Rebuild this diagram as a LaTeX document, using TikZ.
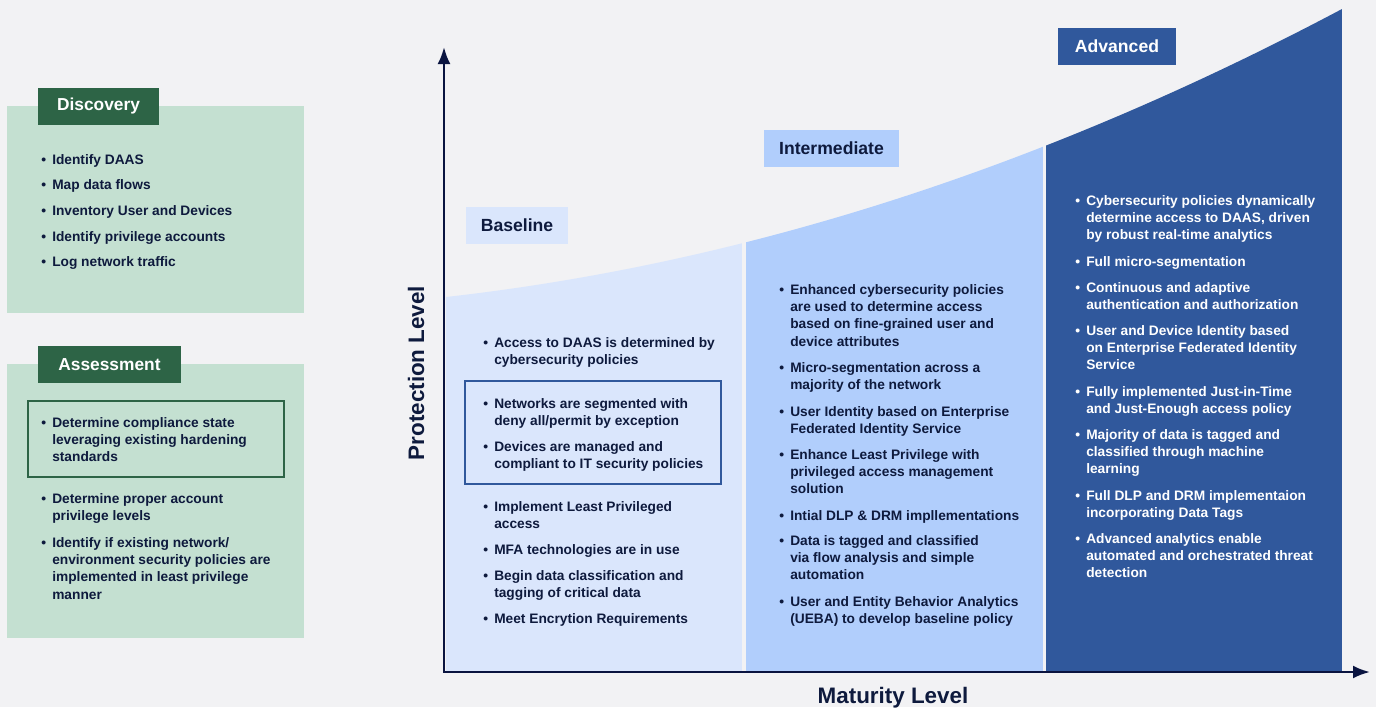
\documentclass[tikz,border=0pt]{standalone}
\usepackage{fontspec}
\setmainfont{Liberation Sans}
\usetikzlibrary{arrows.meta}
\definecolor{bgc}{HTML}{F2F2F4}
\definecolor{basec}{HTML}{DAE6FC}
\definecolor{interc}{HTML}{B1CEFC}
\definecolor{advc}{HTML}{30589C}
\definecolor{panelc}{HTML}{C4E0D1}
\definecolor{hdrc}{HTML}{2D6446}
\definecolor{navy}{HTML}{0E1A3D}
\definecolor{axisc}{HTML}{0A1440}
\newcommand{\bul}[1]{\parbox[t]{260pt}{\raggedright\leavevmode\llap{\textbullet\hspace{4.5pt}}#1}}
\begin{document}
\begin{tikzpicture}[x=0.75pt,y=-0.75pt,
  txt/.style={anchor=base west, inner sep=0pt, font=\fontsize{10.3}{13.1}\selectfont\bfseries, text=navy},
  wtxt/.style={txt, text=white},
  hdr/.style={fill=hdrc, text=white, inner sep=0pt, minimum height=27.75pt, font=\fontsize{13}{15}\selectfont\bfseries},
  lvl/.style={inner sep=0pt, minimum height=27.75pt, font=\fontsize{13.2}{15}\selectfont\bfseries},
  axislbl/.style={inner sep=0pt, text=navy, font=\fontsize{16.8}{19}\selectfont\bfseries},
  axisline/.style={draw=axisc, line width=1.9pt, line join=miter, {Latex[length=12.75pt,width=9.75pt]}-{Latex[length=12.75pt,width=9.75pt]}}
]
\useasboundingbox (0,0) rectangle (1376,707);
\fill[bgc] (0,0) rectangle (1376,707);

% ---------- left panels ----------
\fill[panelc] (7,106) rectangle (304,313);
\node[hdr, minimum width=90.75pt] (dischdr) at (98.5,106.5) {Discovery};
\node[txt] (d1) at (52,164) {\bul{Identify DAAS}};
\node[txt] (d2) at (52,189) {\bul{Map data flows}};
\node[txt] (d3) at (52,215) {\bul{Inventory User and Devices}};
\node[txt] (d4) at (52,241) {\bul{Identify privilege accounts}};
\node[txt] (d5) at (52,266) {\bul{Log network traffic}};

\fill[panelc] (7,364) rectangle (304,638);
\node[hdr, minimum width=107.25pt] (asshdr) at (109.5,364.5) {Assessment};
\draw[hdrc, line width=1.6pt] (28,401) rectangle (284,477);
\node[txt] (a1) at (52,427) {\bul{Determine compliance state\\leveraging existing hardening\\standards}};
\node[txt] (a2) at (52,503) {\bul{Determine proper account\\privilege levels}};
\node[txt] (a3) at (52,547) {\bul{Identify if existing network/\\environment security policies are\\implemented in least privilege\\manner}};

% ---------- maturity columns ----------
\begin{scope}
\clip (446,672) -- (446,297) .. controls (744.7,263.4) and (1043.3,167.4) .. (1342,9) -- (1342,672) -- cycle;
\fill[basec] (446,0) rectangle (742,672);
\fill[interc] (746,0) rectangle (1043,672);
\fill[advc] (1046,0) rectangle (1342,672);
\end{scope}

% axes
\coordinate (O) at (444,672);
\coordinate (ytop) at (444,47);
\coordinate (xend) at (1370,672);
\draw[axisline] (ytop) -- (O) -- (xend);
\node[axislbl, rotate=90] (ylab) at (416,373) {Protection Level};
\node[axislbl, anchor=base] (xlab) at (893,703) {Maturity Level};

% level labels
\node[lvl, fill=basec, text=navy, minimum width=76.5pt] (lbase) at (517,225.5) {Baseline};
\node[lvl, fill=interc, text=navy, minimum width=101.25pt] (linter) at (831.5,148.5) {Intermediate};
\node[lvl, fill=advc, text=white, minimum width=88.5pt] (ladv) at (1117,46.5) {Advanced};

% baseline column
\draw[advc, line width=1.5pt] (465,381) rectangle (721,484);
\node[txt] (b1) at (494,347) {\bul{Access to DAAS is determined by\\cybersecurity policies}};
\node[txt] (b2) at (494,408) {\bul{Networks are segmented with\\deny all/permit by exception}};
\node[txt] (b3) at (494,451) {\bul{Devices are managed and\\compliant to IT security policies}};
\node[txt] (b4) at (494,511) {\bul{Implement Least Privileged\\access}};
\node[txt] (b5) at (494,554) {\bul{MFA technologies are in use}};
\node[txt] (b6) at (494,580) {\bul{Begin data classification and\\tagging of critical data}};
\node[txt] (b7) at (494,623) {\bul{Meet Encrytion Requirements}};

% intermediate column
\node[txt] (i1) at (790,294) {\bul{Enhanced cybersecurity policies\\are used to determine access\\based on fine-grained user and\\device attributes}};
\node[txt] (i2) at (790,372) {\bul{Micro-segmentation across a\\majority of the network}};
\node[txt] (i3) at (790,416) {\bul{User Identity based on Enterprise\\Federated Identity Service}};
\node[txt] (i4) at (790,459) {\bul{Enhance Least Privilege with\\privileged access management\\solution}};
\node[txt] (i5) at (790,520) {\bul{Intial DLP \& DRM impllementations}};
\node[txt] (i6) at (790,545) {\bul{Data is tagged and classified\\via flow analysis and simple\\automation}};
\node[txt] (i7) at (790,606) {\bul{User and Entity Behavior Analytics\\(UEBA) to develop baseline policy}};

% advanced column
\node[wtxt] (v1) at (1086,205) {\bul{Cybersecurity policies dynamically\\determine access to DAAS, driven\\by robust real-time analytics}};
\node[wtxt] (v2) at (1086,266) {\bul{Full micro-segmentation}};
\node[wtxt] (v3) at (1086,292) {\bul{Continuous and adaptive\\authentication and authorization}};
\node[wtxt] (v4) at (1086,335) {\bul{User and Device Identity based\\on Enterprise Federated Identity\\Service}};
\node[wtxt] (v5) at (1086,396) {\bul{Fully implemented Just-in-Time\\and Just-Enough access policy}};
\node[wtxt] (v6) at (1086,439) {\bul{Majority of data is tagged and\\classified through machine\\learning}};
\node[wtxt] (v7) at (1086,500) {\bul{Full DLP and DRM implementaion\\incorporating Data Tags}};
\node[wtxt] (v8) at (1086,543) {\bul{Advanced analytics enable\\automated and orchestrated threat\\detection}};
\end{tikzpicture}
\end{document}
